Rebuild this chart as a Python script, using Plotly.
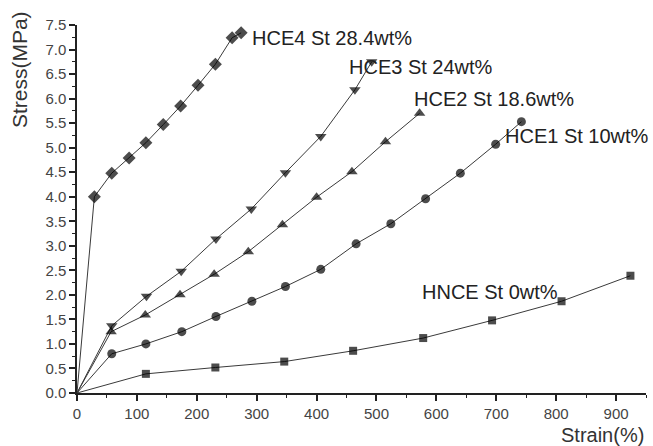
import plotly.graph_objects as go

# Data
hce4_x = [0, 29, 58, 87, 115, 144, 173, 202, 231, 259, 274]
hce4_y = [0, 4.00, 4.48, 4.79, 5.10, 5.47, 5.85, 6.27, 6.70, 7.24, 7.34]

hce3_x = [0, 58, 116, 174, 232, 291, 348, 407, 464, 492]
hce3_y = [0, 1.37, 1.97, 2.48, 3.14, 3.75, 4.49, 5.23, 6.18, 6.75]

hce2_x = [0, 57, 114, 172, 229, 286, 343, 400, 459, 515, 572]
hce2_y = [0, 1.25, 1.59, 2.00, 2.42, 2.88, 3.43, 3.99, 4.51, 5.12, 5.70]

hce1_x = [0, 58, 115, 175, 232, 292, 348, 407, 466, 524, 582, 640, 699, 742]
hce1_y = [0, 0.80, 1.00, 1.25, 1.56, 1.87, 2.17, 2.52, 3.04, 3.45, 3.96, 4.48, 5.07, 5.53]

hnce_x = [0, 115, 231, 346, 461, 578, 693, 809, 924]
hnce_y = [0, 0.39, 0.52, 0.64, 0.86, 1.12, 1.48, 1.87, 2.39]

labels = ["HCE4 St 28.4wt%", "HCE3 St 24wt%", "HCE2 St 18.6wt%", "HCE1 St 10wt%", "HNCE St 0wt%"]
label_x = [289, 450, 559, 712, 573]
label_y = [7.24, 6.65, 5.99, 5.23, 2.05]

series = [
    (hce4_x, hce4_y, "diamond", 10),
    (hce3_x, hce3_y, "triangle-down", 10),
    (hce2_x, hce2_y, "triangle-up", 10),
    (hce1_x, hce1_y, "circle", 9),
    (hnce_x, hnce_y, "square", 8),
]

FONT = "Arial, 'Liberation Sans', sans-serif"

fig = go.Figure()
for (xs, ys, sym, sz), name in zip(series, labels):
    sizes = [0] + [sz] * (len(xs) - 1)
    fig.add_trace(go.Scatter(
        x=xs, y=ys, mode="lines+markers", name=name,
        line=dict(color="#3a3a3a", width=1),
        marker=dict(symbol=sym, size=sizes, color="black", line=dict(width=0)),
        cliponaxis=False,
    ))

for t, lx, ly in zip(labels, label_x, label_y):
    fig.add_annotation(x=lx, y=ly, text=t, showarrow=False, xanchor="left", yanchor="middle",
                       font=dict(family=FONT, size=20, color="#222"))

fig.add_annotation(xref="paper", yref="paper", x=1.0, y=-0.115, text="Strain(%)", showarrow=False,
                   xanchor="right", yanchor="middle", font=dict(family=FONT, size=20, color="#333"))
fig.add_annotation(xref="paper", yref="paper", x=-0.102, y=0.88, text="Stress(MPa)", showarrow=False,
                   textangle=-90, xanchor="center", yanchor="middle",
                   font=dict(family=FONT, size=21, color="#333"))

fig.update_layout(
    width=653, height=446,
    margin=dict(l=77, r=7, t=25, b=53),
    paper_bgcolor="white", plot_bgcolor="white",
    showlegend=False,
    font=dict(family=FONT, size=15, color="#444"),
)
fig.update_xaxes(
    range=[0, 950], tickvals=[0, 100, 200, 300, 400, 500, 600, 700, 800, 900],
    showgrid=False, zeroline=False, showline=True, linecolor="#222", linewidth=1.5,
    ticks="outside", ticklen=6, tickwidth=1.5, tickcolor="#222",
    minor=dict(dtick=50, tick0=0, ticks="outside", ticklen=3, tickwidth=1.2, tickcolor="#222", showgrid=False),
    tickfont=dict(size=15, color="#444"),
)
fig.update_yaxes(
    range=[0, 7.5], tickvals=[0, 0.5, 1, 1.5, 2, 2.5, 3, 3.5, 4, 4.5, 5, 5.5, 6, 6.5, 7, 7.5],
    ticktext=["0.0", "0.5", "1.0", "1.5", "2.0", "2.5", "3.0", "3.5", "4.0", "4.5", "5.0", "5.5", "6.0", "6.5", "7.0", "7.5"],
    showgrid=False, zeroline=False, showline=True, linecolor="#222", linewidth=1.5,
    ticks="outside", ticklen=6, tickwidth=1.5, tickcolor="#222",
    minor=dict(dtick=0.25, tick0=0, ticks="outside", ticklen=3, tickwidth=1.2, tickcolor="#222", showgrid=False),
    tickfont=dict(size=15, color="#444"),
)

fig.write_html("out.html")
